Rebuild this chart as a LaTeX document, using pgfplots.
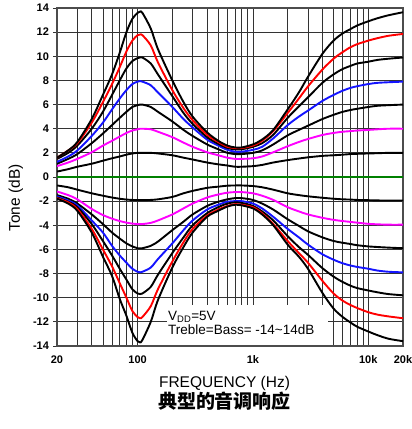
\documentclass[border=0pt]{standalone}
\usepackage{pgfplots}
\pgfplotsset{compat=1.18}
\usepackage{pgfplotstable}
\usepackage{fontspec}
\setmainfont{Liberation Sans}
\newfontfamily\cjk{Noto Sans CJK SC}
\definecolor{cgreen}{RGB}{0,128,0}
\definecolor{cblue}{RGB}{20,20,255}
\definecolor{cmag}{RGB}{255,0,255}
\definecolor{cred}{RGB}{255,0,0}
\pgfplotstableread{
f p14 p12 p10 p8 p6 p4 p2 m2 m4 m6 m8 m10 m12 m14
20 1.6 1.6 1.5 1.25 1.1 0.9 0.45 -0.7 -1.2 -1.5 -1.6 -1.7 -1.75 -1.8
25 2.2 2.2 2.0 1.7 1.5 1.2 0.65 -0.85 -1.5 -1.8 -1.95 -2.05 -2.1 -2.2
30 2.9 2.8 2.6 2.2 1.9 1.5 0.85 -1.05 -1.85 -2.2 -2.35 -2.5 -2.65 -2.8
40 4.8 4.5 4.0 3.4 2.8 2.05 1.1 -1.35 -2.65 -3.1 -3.6 -3.9 -4.3 -4.6
50 6.8 6.2 5.4 4.5 3.6 2.6 1.35 -1.55 -3.15 -3.9 -4.6 -5.3 -6.0 -6.6
60 8.5 7.7 6.8 5.6 4.3 3.0 1.55 -1.7 -3.45 -4.6 -5.7 -6.5 -7.4 -8.2
70 10.3 9.1 8.0 6.5 4.9 3.35 1.7 -1.8 -3.65 -5.1 -6.5 -7.6 -8.8 -10.1
80 12.0 10.4 9.0 7.2 5.4 3.65 1.85 -1.87 -3.78 -5.5 -7.1 -8.5 -10.0 -11.5
90 13.1 11.3 9.6 7.7 5.8 3.85 1.95 -1.9 -3.86 -5.75 -7.6 -9.3 -11.1 -12.9
100 13.6 11.75 9.85 7.9 5.95 3.95 2.0 -1.92 -3.9 -5.9 -7.85 -9.65 -11.6 -13.6
105 13.7 11.8 9.9 7.95 6.0 4.0 2.0 -1.92 -3.9 -5.9 -7.9 -9.7 -11.7 -13.7
110 13.6 11.75 9.9 7.9 6.0 4.0 2.0 -1.92 -3.9 -5.9 -7.85 -9.65 -11.6 -13.5
130 12.3 10.9 9.4 7.6 5.8 3.95 2.0 -1.9 -3.8 -5.7 -7.5 -9.1 -10.7 -12.0
150 10.6 9.5 8.5 7.0 5.4 3.75 1.95 -1.85 -3.6 -5.35 -6.8 -8.1 -9.3 -10.2
200 8.0 7.2 6.7 5.8 4.6 3.3 1.8 -1.65 -3.1 -4.4 -5.5 -6.3 -7.0 -7.5
250 6.2 5.7 5.3 4.8 3.9 2.85 1.6 -1.35 -2.6 -3.7 -4.4 -5.0 -5.4 -5.8
300 5.0 4.7 4.4 4.1 3.4 2.5 1.45 -1.15 -2.2 -3.1 -3.6 -4.0 -4.3 -4.6
400 3.7 3.5 3.3 3.1 2.7 2.05 1.2 -0.9 -1.7 -2.4 -2.7 -3.0 -3.2 -3.3
500 3.0 2.9 2.75 2.6 2.3 1.8 1.05 -0.8 -1.45 -2.05 -2.3 -2.5 -2.7 -2.8
600 2.6 2.5 2.4 2.25 2.0 1.6 0.95 -0.72 -1.3 -1.85 -2.05 -2.2 -2.4 -2.45
700 2.45 2.4 2.3 2.1 1.9 1.5 0.85 -0.7 -1.25 -1.75 -2.0 -2.1 -2.25 -2.3
800 2.45 2.4 2.3 2.1 1.9 1.5 0.85 -0.7 -1.25 -1.75 -2.0 -2.15 -2.3 -2.35
1000 2.7 2.6 2.5 2.25 2.0 1.55 0.9 -0.75 -1.35 -1.9 -2.2 -2.4 -2.5 -2.6
1200 3.1 3.0 2.8 2.5 2.2 1.7 1.0 -0.85 -1.55 -2.2 -2.6 -2.85 -3.0 -3.1
1500 3.9 3.8 3.5 3.2 2.7 2.05 1.2 -1.05 -1.9 -2.7 -3.3 -3.6 -3.9 -4.0
2000 5.6 5.3 4.9 4.3 3.45 2.55 1.4 -1.35 -2.5 -3.5 -4.3 -4.9 -5.3 -5.6
2500 7.0 6.5 5.85 5.0 3.9 2.9 1.53 -1.5 -2.85 -4.05 -5.0 -5.8 -6.3 -6.6
3000 8.3 7.5 6.6 5.5 4.25 3.15 1.63 -1.6 -3.1 -4.5 -5.6 -6.45 -7.1 -7.6
4000 10.2 8.9 7.8 6.3 4.8 3.48 1.75 -1.72 -3.38 -5.0 -6.4 -7.55 -8.6 -9.6
5000 11.3 9.8 8.5 6.8 5.15 3.65 1.8 -1.8 -3.55 -5.3 -6.85 -8.25 -9.65 -10.9
6000 11.9 10.35 8.95 7.15 5.4 3.75 1.85 -1.85 -3.65 -5.45 -7.15 -8.7 -10.25 -11.6
7000 12.25 10.75 9.2 7.38 5.55 3.8 1.9 -1.87 -3.72 -5.55 -7.33 -9.0 -10.6 -12.05
8000 12.55 11.0 9.4 7.52 5.65 3.85 1.92 -1.9 -3.78 -5.65 -7.45 -9.2 -10.85 -12.4
10000 12.9 11.3 9.55 7.7 5.8 3.9 1.95 -1.92 -3.88 -5.75 -7.6 -9.4 -11.2 -12.8
12000 13.15 11.5 9.7 7.8 5.9 3.95 1.97 -1.94 -3.92 -5.8 -7.75 -9.55 -11.4 -13.1
15000 13.4 11.7 9.8 7.85 5.95 4.0 2.0 -1.95 -3.95 -5.85 -7.85 -9.7 -11.55 -13.4
20000 13.65 11.85 9.9 7.9 6.0 4.0 2.0 -1.95 -3.95 -5.9 -7.9 -9.8 -11.7 -13.6
}\tone
\begin{document}
\begin{tikzpicture}[x=1pt,y=1pt]
\begin{axis}[
  at={(0,0)}, anchor=south west,
  scale only axis, width=346pt, height=338pt,
  xmode=log, log basis x=10,
  xmin=20, xmax=20000, ymin=-14, ymax=14,
  xtick={20,100,1000,10000,20000},
  xticklabels={20,100,1k,10k,20k},
  minor xtick={30,40,50,60,70,80,90,200,300,400,500,600,700,800,900,2000,3000,4000,5000,6000,7000,8000,9000},
  ytick={-14,-12,...,14},
  minor y tick num=0,
  grid=both,
  major grid style={draw=black!80, line width=0.75pt},
  minor grid style={draw=black!80, line width=0.75pt},
  axis line style={draw=black!70, line width=1.2pt},
  tick align=outside,
  ytick pos=left,
  xtick pos=bottom,
  x tick style={draw=none},
  y tick style={draw=black!80, line width=0.8pt},
  major tick length=4pt,
  /pgf/number format/assume math mode=true,
  ticklabel style={font=\fontsize{11}{13}\selectfont\bfseries},
  yticklabel style={xshift=-0.5pt},
  xticklabel style={yshift=-2pt},
  every axis plot/.append style={line width=1.9pt, smooth, tension=0.5},
]
\addplot[black] table[x=f,y=p2] {\tone};
\addplot[cmag] table[x=f,y=p4] {\tone};
\addplot[black] table[x=f,y=p6] {\tone};
\addplot[cblue] table[x=f,y=p8] {\tone};
\addplot[black] table[x=f,y=p10] {\tone};
\addplot[cred] table[x=f,y=p12] {\tone};
\addplot[black] table[x=f,y=p14] {\tone};
\addplot[black] table[x=f,y=m2] {\tone};
\addplot[cmag] table[x=f,y=m4] {\tone};
\addplot[black] table[x=f,y=m6] {\tone};
\addplot[cblue] table[x=f,y=m8] {\tone};
\addplot[black] table[x=f,y=m10] {\tone};
\addplot[cred] table[x=f,y=m12] {\tone};
\addplot[black] table[x=f,y=m14] {\tone};
\addplot[cgreen] coordinates {(20,0) (20000,0)};
\end{axis}
\fill[white] (110,0.9) rectangle (271,41);
\node[anchor=base west, inner sep=0pt, font=\fontsize{13.5}{15}\selectfont] at (111,26) {V\textsubscript{DD}=5V};
\node[anchor=base west, inner sep=0pt, font=\fontsize{13.5}{15}\selectfont] at (111,12) {Treble=Bass= -14\textasciitilde14dB};
\node[rotate=90, anchor=base, inner sep=0pt, font=\fontsize{15.5}{17}\selectfont] at (-37,148) {Tone (dB)};
\node[anchor=base, inner sep=0pt, font=\fontsize{15.5}{17}\selectfont] at (167.5,-41) {FREQUENCY (Hz)};
\node[anchor=center, inner sep=0pt, font=\fontsize{19}{21}\selectfont\cjk\bfseries] at (167.5,-55.5) {典型的音调响应};
\pgfresetboundingbox
\path (-57,-83) rectangle (355,346);
\end{tikzpicture}
\end{document}
